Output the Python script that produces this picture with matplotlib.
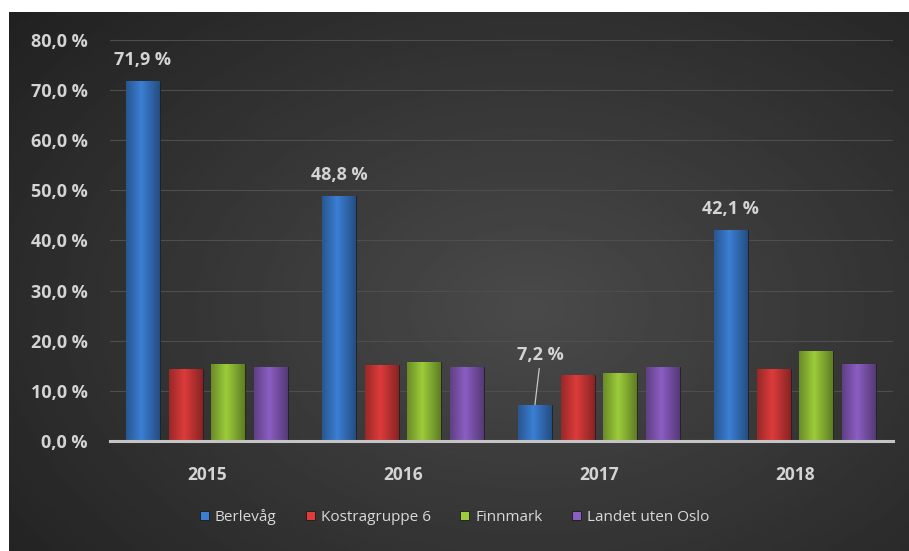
import numpy as np
import matplotlib
matplotlib.use("Agg")
import matplotlib.pyplot as plt
from matplotlib.colors import to_rgb

plt.rcParams['font.family'] = ['Open Sans', 'DejaVu Sans']

years = ["2015", "2016", "2017", "2018"]
series = ["Berlevåg", "Kostragruppe 6", "Finnmark", "Landet uten Oslo"]
berlevag = [71.9, 48.8, 7.2, 42.1]
kostra6 = [14.4, 15.2, 13.2, 14.4]
finnmark = [15.4, 15.8, 13.5, 18.0]
landet = [14.8, 14.8, 14.8, 15.4]
colors = ["#3b7fd4", "#de3b3b", "#9ccc3a", "#8b5ec2"]
yticks = [0, 10, 20, 30, 40, 50, 60, 70, 80]

fig = plt.figure(figsize=(9.09, 5.51), dpi=100, facecolor="white")

# dark radial background
bg = fig.add_axes([9 / 909, 0, 1 - 9 / 909, 1 - 12 / 551])
yy, xx = np.mgrid[0:1:200j, 0:1:300j]
r = np.sqrt(((xx - 0.58) / 0.8) ** 2 + ((yy - 0.55) / 0.9) ** 2)
shade = np.clip(0.29 - 0.17 * r, 0.13, 0.29)
bg.imshow(shade, cmap="gray", vmin=0, vmax=1, aspect="auto", extent=[0, 1, 0, 1])
bg.axis("off")

ax = fig.add_axes([110 / 909, 110 / 551, 783 / 909, 401 / 551])
ax.patch.set_alpha(0)

x = np.arange(len(years))
slot = 0.218
width = 0.173
data = [berlevag, kostra6, finnmark, landet]
grad = np.linspace(0, 1, 50)
grad = 1 - 0.35 * np.abs(grad - 0.45) * 2
for i, (name, vals, c) in enumerate(zip(series, data, colors)):
    pos = x + (i - 1.5) * slot
    bars = ax.bar(pos, vals, width, color=c, edgecolor="#1a1a1a", linewidth=0.6, label=name, zorder=3)
    # soft horizontal shading inside each bar
    rgb = np.array(to_rgb(c))
    img = (grad[None, :, None] * rgb[None, None, :])
    for b in bars:
        bx, bw, bh = b.get_x(), b.get_width(), b.get_height()
        im = ax.imshow(img, extent=[bx, bx + bw, 0, bh], aspect="auto", zorder=3.5)
        im.set_clip_path(b)

# value labels for Berlevåg
for xi, v in zip(x, berlevag):
    px = xi - 1.5 * slot
    lbl = f"{v:.1f} %".replace(".", ",")
    if v < 10:
        ax.annotate(lbl, xy=(px, v), xytext=(px + 0.03, 15.3),
                    ha="center", va="bottom", color="#d4d4d4", fontsize=13, fontweight="bold",
                    arrowprops=dict(arrowstyle="-", color="#c8c8c8", lw=0.9, shrinkA=1, shrinkB=0))
    else:
        ax.text(px, v + 2.4, lbl, ha="center", va="bottom",
                color="#d4d4d4", fontsize=13, fontweight="bold")

ax.set_ylim(0, 80)
ax.set_xlim(-0.495, 3.5)
ax.set_yticks(yticks)
ax.set_yticklabels([f"{t:.1f} %".replace(".", ",") for t in yticks], color="#d4d4d4",
                   fontsize=13, fontweight="bold")
ax.set_xticks(x)
ax.set_xticklabels(years, color="#d4d4d4", fontsize=12.5, fontweight="bold")
ax.tick_params(axis="y", length=0, pad=16)
ax.tick_params(axis="x", length=0, pad=18)
ax.grid(axis="y", color="#4e4e4e", linewidth=0.8, zorder=0)
for s in ["top", "right", "left"]:
    ax.spines[s].set_visible(False)
ax.spines["bottom"].set_color("#c4c4c4")
ax.spines["bottom"].set_linewidth(2.2)
ax.spines["bottom"].set_zorder(4)

leg = fig.legend(loc="center", bbox_to_anchor=(0.50, 34 / 551), ncol=4, frameon=False,
                 fontsize=11, handlelength=0.6, handleheight=0.6, handletextpad=0.4,
                 columnspacing=1.9)
for t in leg.get_texts():
    t.set_color("#d9d9d9")

fig.savefig("out.png", dpi=100, facecolor=fig.get_facecolor())
